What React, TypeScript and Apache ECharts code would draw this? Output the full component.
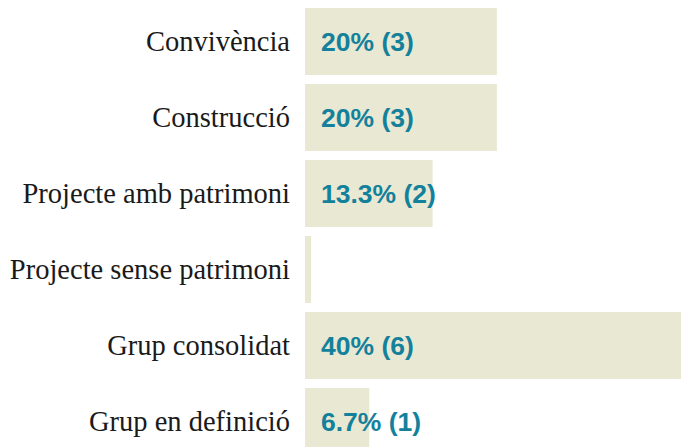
import React, { useEffect, useRef } from "react";
import * as echarts from "echarts";

const categories = [
  "Convivència",
  "Construcció",
  "Projecte amb patrimoni",
  "Projecte sense patrimoni",
  "Grup consolidat",
  "Grup en definició",
];
const percents = [20, 20, 13.3, 0, 40, 6.7];
const counts = [3, 3, 2, 0, 6, 1];

export default function App() {
  const ref = useRef<HTMLDivElement>(null);
  useEffect(() => {
    if (!ref.current) return;
    const chart = echarts.init(ref.current, null, { renderer: "svg" });
    chart.setOption({
      animation: false,
      grid: { left: 305, top: 3.5, bottom: 0.5, width: 376, containLabel: false },
      xAxis: {
        type: "value",
        min: 0,
        max: 39.2,
        show: false,
      },
      yAxis: {
        type: "category",
        inverse: true,
        data: categories,
        axisLine: { show: false },
        axisTick: { show: false },
        splitLine: { show: false },
        axisLabel: {
          margin: 15,
          fontFamily: "Liberation Serif",
          fontSize: 28.5,
          color: "#1a1a1a",
        },
      },
      series: [
        {
          type: "bar",
          data: percents.map((v) => ({
            value: v,
            label: { show: v > 0 },
          })),
          barWidth: 67,
          barMinHeight: 6,
          itemStyle: { color: "#e9e8d2" },
          clip: true,
          label: {
            show: true,
            position: "insideLeft",
            distance: 16,
            formatter: (p: any) => `${percents[p.dataIndex]}% (${counts[p.dataIndex]})`,
            fontFamily: "Liberation Sans",
            fontWeight: "bold",
            fontSize: 26.5,
            color: "#13819c",
          },
        },
      ],
    });
    return () => chart.dispose();
  }, []);
  return (
    <div style={{ position: "absolute", left: 0, top: 0, width: 681, height: 447, overflow: "hidden" }}>
      <div
        ref={ref}
        style={{ position: "absolute", left: 0, top: 0, width: 681, height: 460 }}
      />
    </div>
  );
}
